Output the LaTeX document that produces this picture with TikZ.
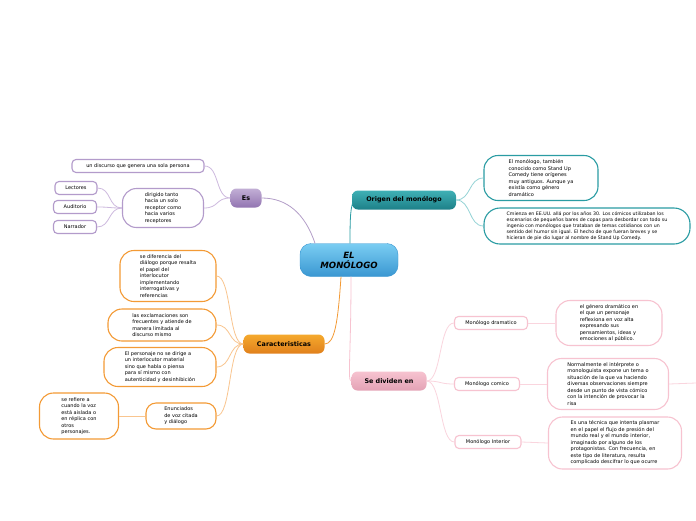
\documentclass[tikz,border=0pt]{standalone}
\usepackage{fontspec}
\setmainfont{DejaVu Sans}
\usetikzlibrary{positioning}

\definecolor{azul}{HTML}{7ACDF2}
\definecolor{azuloscuro}{HTML}{3A97D2}
\definecolor{verdeazul}{HTML}{3FB0B5}
\definecolor{verdeazuloscuro}{HTML}{1D8088}
\definecolor{verdeazulborde}{HTML}{2A9CA3}
\definecolor{verdeazulclaro}{HTML}{95D3D6}
\definecolor{lila}{HTML}{B39BCB}
\definecolor{lilaoscuro}{HTML}{9274B1}
\definecolor{lilaclaro}{HTML}{CDB9DE}
\definecolor{naranja}{HTML}{F39A35}
\definecolor{naranjaoscuro}{HTML}{E0801C}
\definecolor{naranjaclaro}{HTML}{F9C58F}
\definecolor{rosa}{HTML}{F7C3D0}
\definecolor{rosaoscuro}{HTML}{E3A2B5}
\definecolor{rosaclaro}{HTML}{FAD5DE}

\begin{document}
\begin{tikzpicture}[
        x=1pt, y=-1pt,
        central/.style = {rounded corners=11pt, draw=azuloscuro, top color=azul, bottom color=azuloscuro,
                          font=\fontsize{8.6}{10}\selectfont\bfseries\itshape, align=center,
                          minimum width=98pt, minimum height=33pt},
        rama/.style    = {rounded corners=6pt, font=\fontsize{6.4}{7.5}\selectfont\bfseries,
                          minimum height=19pt, inner sep=2pt},
        hoja/.style    = {rounded corners=14pt, draw, fill=white, line width=1.1pt, align=left,
                          font=\fontsize{5}{6.5}\selectfont, inner sep=2pt},
        etiqueta/.style= {rounded corners=4pt, draw, fill=white, line width=1.1pt,
                          font=\fontsize{5}{6}\selectfont, minimum height=13pt, inner sep=2pt},
        linea/.style   = {line width=0.8pt}
    ]
    \useasboundingbox[fill=white] (0,0) rectangle (696,520);

    % nodo central y ramas
    \node[central] (mono) at (349,260) {EL\\MONÓLOGO};
    \node[rama, top color=verdeazul, bottom color=verdeazuloscuro, minimum width=104pt] (origen) at (404,200) {Origen del monólogo};
    \node[rama, top color=lila!80, bottom color=lilaoscuro, minimum width=31pt] (es) at (246,198) {Es};
    \node[rama, top color=naranja!85!yellow, bottom color=naranjaoscuro, minimum width=81pt] (caract) at (284,344) {Caracteristicas};
    \node[rama, top color=rosa, bottom color=rosaoscuro, minimum width=75pt] (divid) at (389,381) {Se dividen en};

    % Origen
    \node[hoja, draw=verdeazulborde, minimum width=114pt, minimum height=45pt] (ori1) at (541,178)
        {El monólogo, también\\conocido como Stand Up\\Comedy tiene orígenes\\muy antiguos. Aunque ya\\existía como género\\dramático};
    \node[hoja, draw=verdeazulborde, minimum width=206pt, minimum height=36pt, rounded corners=16pt,
          font=\fontsize{4.7}{5.9}\selectfont] (ori2) at (587,226)
        {Cmienza en EE.UU. allá por los años 30. Los cómicos utilizaban los\\escenarios de pequeños bares de copas para desbordar con todo su\\ingenio con monólogos que trataban de temas cotidianos con un\\sentido del humor sin igual. El hecho de que fueran breves y se\\hicieran de pie dio lugar al nombre de Stand Up Comedy.};

    % Es
    \node[etiqueta, draw=lila, minimum width=132pt] (es1) at (138,166) {un discurso que genera una sola persona};
    \node[hoja, draw=lila, minimum width=81pt, minimum height=39pt] (es2) at (163,208)
        {dirigido tanto\\hacia un solo\\receptor como\\hacia varios\\receptores};
    \node[etiqueta, draw=lila, minimum width=42pt] (lect) at (76,188) {Lectores};
    \node[etiqueta, draw=lila, minimum width=43pt] (audi) at (75,207) {Auditorio};
    \node[etiqueta, draw=lila, minimum width=43pt] (narr) at (75,227) {Narrador};

    % Caracteristicas
    \node[hoja, draw=naranja, minimum width=96pt, minimum height=51pt] (car1) at (168,276)
        {se diferencia del\\diálogo porque resalta\\el papel del\\interlocutor\\implementando\\interrogativas y\\referencias};
    \node[hoja, draw=naranja, minimum width=108pt, minimum height=32pt] (car2) at (162,325)
        {las exclamaciones son\\frecuentes y atiende de\\manera limitada al\\discurso mismo};
    \node[hoja, draw=naranja, minimum width=112pt, minimum height=39pt] (car3) at (160,367)
        {El personaje no se dirige a\\un interlocutor material\\sino que habla o piensa\\para sí mismo con\\autenticidad y desinhibición};
    \node[hoja, draw=naranja, minimum width=70pt, minimum height=26pt, rounded corners=10pt] (car4) at (181,416)
        {Enunciados\\de voz citada\\y diálogo};
    \node[hoja, draw=naranja, minimum width=79pt, minimum height=46pt] (car5) at (79,416)
        {se refiere a\\cuando la voz\\está aislada o\\en réplica con\\otros\\personajes.};

    % Se dividen en
    \node[etiqueta, draw=rosa, minimum width=73pt] (dram) at (491,323) {Monólogo dramatico};
    \node[etiqueta, draw=rosa, minimum width=65pt] (comi) at (487,384) {Monólogo comico};
    \node[etiqueta, draw=rosa, minimum width=66pt] (inte) at (488,442) {Monólogo Interior};
    \node[hoja, draw=rosa, minimum width=106pt, minimum height=45pt] (dram1) at (609,323)
        {el género dramático en\\el que un personaje\\reflexiona en voz alta\\expresando sus\\pensamientos, ideas y\\emociones al público.};
    \node[hoja, draw=rosa, minimum width=121pt, minimum height=51pt] (comi1) at (608,384)
        {Normalmente el intérprete o\\monologuista expone un tema o\\situación de la que va haciendo\\diversas observaciones siempre\\desde un punto de vista cómico\\con la intención de provocar la\\risa};
    \node[hoja, draw=rosa, minimum width=133pt, minimum height=52pt] (inte1) at (615,443)
        {Es una técnica que intenta plasmar\\en el papel el flujo de presión del\\mundo real y el mundo interior,\\imaginado por alguno de los\\protagonistas. Con frecuencia, en\\este tipo de literatura, resulta\\complicado descifrar lo que ocurre};
    \coordinate (fuera) at (696,383);

    % conexiones
    \draw[linea, draw=verdeazulborde] ([xshift=1pt]mono.north) .. controls +(0,-30) and +(-2,8) .. ([xshift=1pt,yshift=-2pt]origen.west);
    \draw[linea, draw=lilaoscuro!70] ([xshift=-34pt]mono.north) .. controls +(-10,-30) and +(25,0) .. (es.east);
    \draw[linea, draw=naranja] ([xshift=-8pt]mono.south) .. controls +(-3,45) and +(10,0) .. (caract.east);
    \draw[linea, draw=rosa] ([xshift=2pt]mono.south) .. controls +(0,80) and +(-4,0) .. (divid.west);

    \foreach \h in {ori1,ori2}
        \draw[linea, draw=verdeazulclaro] (origen.east) .. controls +(15,0) and +(-15,0) .. (\h.west);
    \foreach \h in {es1,es2}
        \draw[linea, draw=lilaclaro] (es.west) .. controls +(-15,0) and +(15,0) .. (\h.east);
    \foreach \h in {lect,audi,narr}
        \draw[linea, draw=lilaclaro] (es2.west) .. controls +(-14,0) and +(14,0) .. (\h.east);
    \foreach \h in {car1,car2,car3,car4}
        \draw[linea, draw=naranjaclaro] (caract.west) .. controls +(-15,0) and +(15,0) .. (\h.east);
    \draw[linea, draw=naranjaclaro] (car4.west) -- (car5.east);
    \foreach \h in {dram,comi,inte}
        \draw[linea, draw=rosaclaro] (divid.east) .. controls +(15,0) and +(-15,0) .. (\h.west);
    \draw[linea, draw=rosaclaro] (dram.east) -- (dram1.west);
    \draw[linea, draw=rosaclaro] (comi.east) -- (comi1.west);
    \draw[linea, draw=rosaclaro] (inte.east) -- (inte1.west);
    \draw[linea, draw=rosaclaro] (comi1.east) -- (fuera);
\end{tikzpicture}
\end{document}
